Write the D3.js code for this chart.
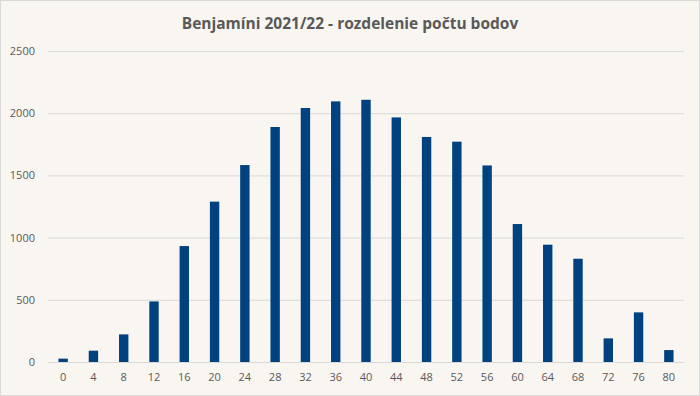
<!DOCTYPE html>
<html>
<head>
<meta charset="utf-8">
<script src="https://cdn.jsdelivr.net/npm/d3@7"></script>
<style>
  body { margin: 0; background: #fff; }
  svg { display: block; }
</style>
</head>
<body>
<svg id="chart" width="700" height="396"></svg>
<script>
const title = "Benjamíni 2021/22 - rozdelenie počtu bodov";
const points = [0, 4, 8, 12, 16, 20, 24, 28, 32, 36, 40, 44, 48, 52, 56, 60, 64, 68, 72, 76, 80];
const counts = [27, 91, 222, 487, 932, 1289, 1583, 1889, 2042, 2095, 2108, 1966, 1809, 1771, 1580, 1109, 943, 830, 190, 399, 96];
const yTicks = [0, 500, 1000, 1500, 2000, 2500];

const svg = d3.select("#chart"),
      margin = {top: 51, right: 16, bottom: 34, left: 48},
      width = +svg.attr("width") - margin.left - margin.right,
      height = +svg.attr("height") - margin.top - margin.bottom;

svg.append("rect")
    .attr("x", 0.5).attr("y", 0.5)
    .attr("width", 699).attr("height", 395)
    .attr("fill", "#f9f5f0")
    .attr("stroke", "#d9d9d9");

svg.append("text")
    .attr("x", 350)
    .attr("y", 29)
    .attr("text-anchor", "middle")
    .style("font-family", "'Open Sans', sans-serif")
    .style("font-weight", "bold")
    .style("font-size", "15.5px")
    .attr("fill", "#595959")
    .text(title);

const g = svg.append("g")
    .attr("transform", `translate(${margin.left},${margin.top})`);

const x = d3.scaleBand().domain(points).range([0, width]).paddingInner(0.69).paddingOuter(0.345);
const y = d3.scaleLinear().domain([0, 2500]).range([height, 0]);

// gridlines + y labels
const yAxis = g.append("g")
    .call(d3.axisLeft(y).tickValues(yTicks).tickFormat(d3.format("d")).tickSize(-width).tickPadding(13));
yAxis.select(".domain").remove();
yAxis.selectAll("line").attr("stroke", "#d9d9d9");
yAxis.selectAll("text")
    .attr("fill", "#595959")
    .style("font-family", "'Open Sans', sans-serif")
    .style("font-size", "11px");

g.selectAll(".bar")
    .data(points)
    .enter().append("rect")
    .attr("class", "bar")
    .attr("x", d => x(d))
    .attr("y", (d, i) => y(counts[i]))
    .attr("width", x.bandwidth())
    .attr("height", (d, i) => height - y(counts[i]))
    .attr("fill", "#004280");

const xAxis = g.append("g")
    .attr("transform", `translate(0,${height})`)
    .call(d3.axisBottom(x).tickSize(0).tickPadding(11));
xAxis.select(".domain").attr("stroke", "#d9d9d9");
xAxis.selectAll("text")
    .attr("fill", "#595959")
    .style("font-family", "'Open Sans', sans-serif")
    .style("font-size", "11px");
</script>
</body>
</html>
